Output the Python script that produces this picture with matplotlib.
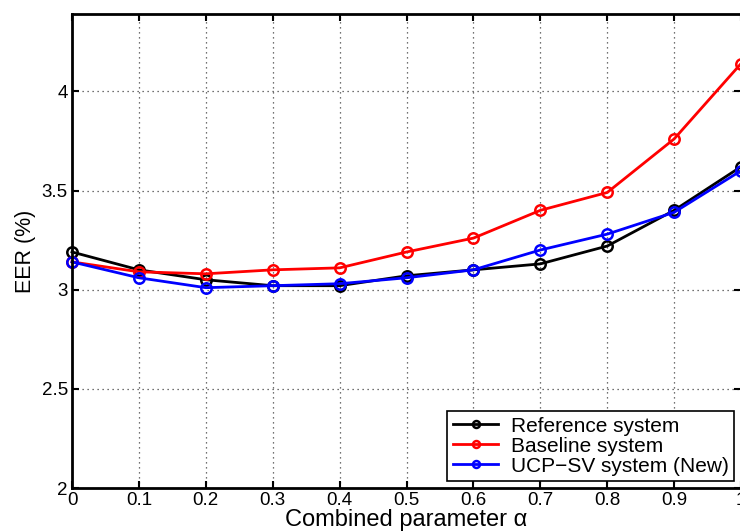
import matplotlib
matplotlib.use("Agg")
import matplotlib.pyplot as plt

alpha = [0.0, 0.1, 0.2, 0.3, 0.4, 0.5, 0.6, 0.7, 0.8, 0.9, 1.0]
reference = [3.19, 3.10, 3.05, 3.02, 3.02, 3.07, 3.10, 3.13, 3.22, 3.40, 3.62]
baseline = [3.14, 3.09, 3.08, 3.10, 3.11, 3.19, 3.26, 3.40, 3.49, 3.76, 4.14]
ucp_sv = [3.14, 3.06, 3.01, 3.02, 3.03, 3.06, 3.10, 3.20, 3.28, 3.39, 3.60]

plt.rcParams['font.family'] = ['Liberation Sans', 'DejaVu Sans']

fig = plt.figure(figsize=(7.40, 5.32), dpi=100)
# axes run slightly past the right edge, like the cropped original
ax = fig.add_axes([0.0973, 0.0827, 0.9041, 0.891])

ax.plot(alpha, reference, color="black", marker="o", mfc="none", mew=1.8, ms=7.5, lw=2, label="Reference system", clip_on=False)
ax.plot(alpha, baseline, color="red", marker="o", mfc="none", mew=1.8, ms=7.5, lw=2, label="Baseline system", clip_on=False)
ax.plot(alpha, ucp_sv, color="blue", marker="o", mfc="none", mew=1.8, ms=7.5, lw=2, label="UCP\u2212SV system (New)", clip_on=False)

ax.set_xlim(0, 1)
ax.set_ylim(2, 4.39)
ax.set_xticks([0, 0.1, 0.2, 0.3, 0.4, 0.5, 0.6, 0.7, 0.8, 0.9, 1])
ax.set_xticklabels(["0", "0.1", "0.2", "0.3", "0.4", "0.5", "0.6", "0.7", "0.8", "0.9", "1"])
ax.set_yticks([2, 2.5, 3, 3.5, 4])
ax.set_yticklabels(["2", "2.5", "3", "3.5", "4"])
ax.grid(True, linestyle=(0, (1, 3)), color="#444444", linewidth=0.9)
ax.tick_params(direction="in", top=True, right=True, length=5, width=1.5, labelsize=13.5, pad=3)
for s in ax.spines.values():
    s.set_linewidth(2)

ax.set_xlabel("Combined parameter \u03b1", fontsize=17, labelpad=0)
ax.set_ylabel("EER (%)", fontsize=15.5, labelpad=4)

leg = ax.legend(loc="lower right", bbox_to_anchor=(0.9895, 0.0148), borderaxespad=0, fontsize=15,
                fancybox=False, framealpha=1, edgecolor="black", borderpad=0.25, labelspacing=0.05,
                handlelength=2.2, handletextpad=0.6)
leg.get_frame().set_linewidth(1.2)
for h in leg.legend_handles:
    h.set_markersize(5)

fig.savefig("out.png", dpi=100)
